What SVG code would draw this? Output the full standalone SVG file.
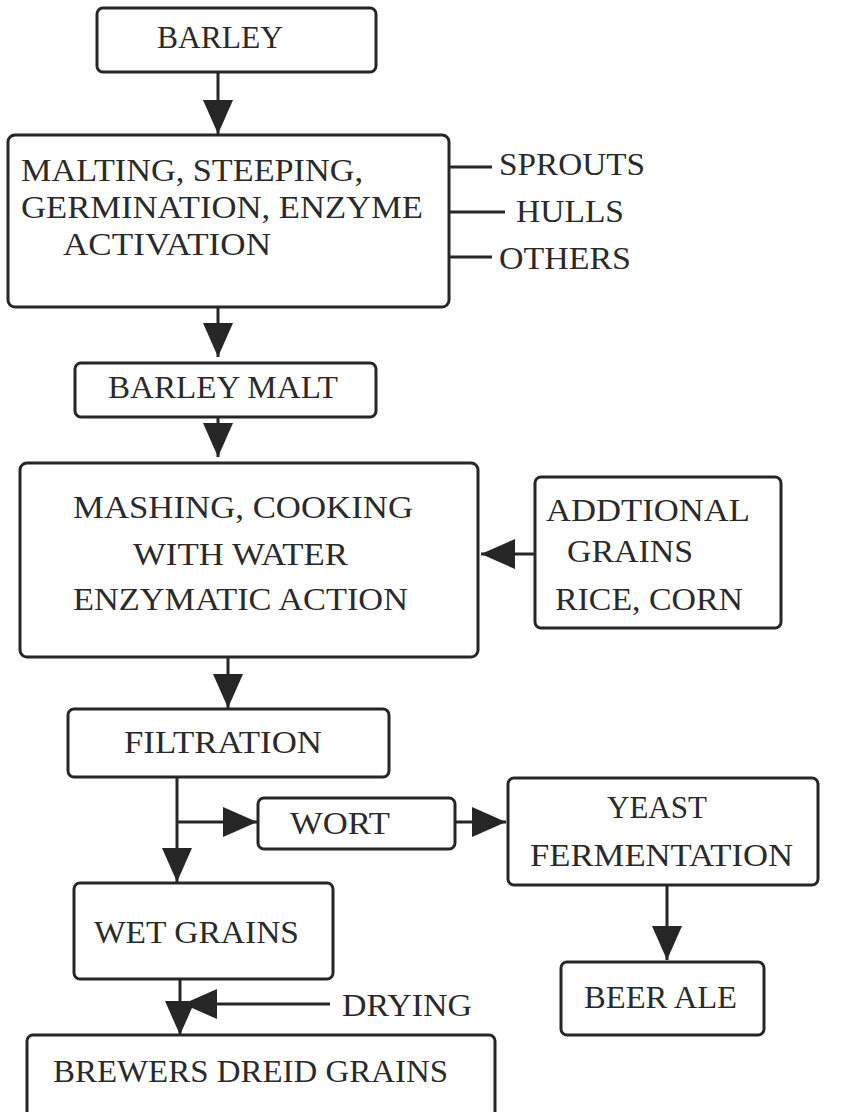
<svg xmlns="http://www.w3.org/2000/svg" width="845" height="1112" viewBox="0 0 845 1112">
<style>
.box{fill:#fff;stroke:#262626;stroke-width:3}
.t{font-family:"Liberation Serif","Times New Roman",serif;font-size:31px;fill:#2a2a2a}
.c{fill:none;stroke:#262626;stroke-width:3}
.a{marker-end:url(#ah)}
</style>
<defs>
<marker id="ah" markerUnits="userSpaceOnUse" viewBox="0 0 34 30" refX="34" refY="15" markerWidth="34" markerHeight="30" orient="auto">
<path d="M0,0 L34,15 L0,30 Z" fill="#262626"/>
</marker>
</defs>
<rect width="845" height="1112" fill="#fff"/>
<g id="connectors">
<line class="c a" x1="218" y1="72" x2="218" y2="134"/>
<line class="c a" x1="218" y1="307" x2="218" y2="357"/>
<line class="c a" x1="218" y1="417" x2="218" y2="457"/>
<line class="c a" x1="535" y1="554" x2="481" y2="554"/>
<line class="c a" x1="228" y1="657" x2="228" y2="708"/>
<line class="c a" x1="177" y1="777" x2="177" y2="882"/>
<line class="c a" x1="177" y1="822" x2="257" y2="822"/>
<line class="c a" x1="455" y1="822" x2="506" y2="822"/>
<line class="c a" x1="667" y1="885" x2="667" y2="960"/>
<line class="c a" x1="180" y1="979" x2="180" y2="1035"/>
<line class="c a" x1="330" y1="1004" x2="183" y2="1004"/>
<line class="c" x1="449" y1="167" x2="492" y2="167"/>
<line class="c" x1="449" y1="212" x2="505" y2="212"/>
<line class="c" x1="449" y1="257" x2="492" y2="257"/>
</g>
<g id="barley">
<rect class="box" x="97" y="8" width="279" height="64" rx="6"/>
<text class="t" x="157" y="48" textLength="126" lengthAdjust="spacingAndGlyphs">BARLEY</text>
</g>
<g id="malting">
<rect class="box" x="8" y="135" width="441" height="172" rx="7"/>
<text class="t" x="21" y="181" textLength="342" lengthAdjust="spacingAndGlyphs">MALTING, STEEPING,</text>
<text class="t" x="21" y="218" textLength="402" lengthAdjust="spacingAndGlyphs">GERMINATION, ENZYME</text>
<text class="t" x="63" y="255" textLength="208" lengthAdjust="spacingAndGlyphs">ACTIVATION</text>
</g>
<g id="sprouts"><text class="t" x="499" y="175" textLength="146" lengthAdjust="spacingAndGlyphs">SPROUTS</text></g>
<g id="hulls"><text class="t" x="516" y="222" textLength="108" lengthAdjust="spacingAndGlyphs">HULLS</text></g>
<g id="others"><text class="t" x="499" y="269" textLength="132" lengthAdjust="spacingAndGlyphs">OTHERS</text></g>
<g id="barley-malt">
<rect class="box" x="75" y="363" width="301" height="54" rx="6"/>
<text class="t" x="108" y="398" textLength="230" lengthAdjust="spacingAndGlyphs">BARLEY MALT</text>
</g>
<g id="mashing">
<rect class="box" x="20" y="463" width="458" height="194" rx="7"/>
<text class="t" x="73" y="518" textLength="340" lengthAdjust="spacingAndGlyphs">MASHING, COOKING</text>
<text class="t" x="133" y="565" textLength="215" lengthAdjust="spacingAndGlyphs">WITH WATER</text>
<text class="t" x="73" y="610" textLength="335" lengthAdjust="spacingAndGlyphs">ENZYMATIC ACTION</text>
</g>
<g id="additional">
<rect class="box" x="535" y="477" width="246" height="151" rx="6"/>
<text class="t" x="546" y="521" textLength="204" lengthAdjust="spacingAndGlyphs">ADDTIONAL</text>
<text class="t" x="567" y="562" textLength="126" lengthAdjust="spacingAndGlyphs">GRAINS</text>
<text class="t" x="555" y="610" textLength="188" lengthAdjust="spacingAndGlyphs">RICE, CORN</text>
</g>
<g id="filtration">
<rect class="box" x="68" y="709" width="321" height="68" rx="6"/>
<text class="t" x="124" y="753" textLength="198" lengthAdjust="spacingAndGlyphs">FILTRATION</text>
</g>
<g id="wort">
<rect class="box" x="258" y="798" width="197" height="51" rx="6"/>
<text class="t" x="290" y="834" textLength="100" lengthAdjust="spacingAndGlyphs">WORT</text>
</g>
<g id="yeast">
<rect class="box" x="508" y="778" width="310" height="107" rx="6"/>
<text class="t" x="607" y="818" textLength="100" lengthAdjust="spacingAndGlyphs">YEAST</text>
<text class="t" x="530" y="866" textLength="263" lengthAdjust="spacingAndGlyphs">FERMENTATION</text>
</g>
<g id="beer-ale">
<rect class="box" x="561" y="962" width="203" height="73" rx="6"/>
<text class="t" x="584" y="1008" textLength="153" lengthAdjust="spacingAndGlyphs">BEER ALE</text>
</g>
<g id="wet-grains">
<rect class="box" x="74" y="883" width="259" height="96" rx="6"/>
<text class="t" x="94" y="943" textLength="205" lengthAdjust="spacingAndGlyphs">WET GRAINS</text>
</g>
<g id="drying"><text class="t" x="342" y="1016" textLength="130" lengthAdjust="spacingAndGlyphs">DRYING</text></g>
<g id="brewers">
<rect class="box" x="27" y="1035" width="468" height="90" rx="6"/>
<text class="t" x="53" y="1082" textLength="395" lengthAdjust="spacingAndGlyphs">BREWERS DREID GRAINS</text>
</g>
</svg>
